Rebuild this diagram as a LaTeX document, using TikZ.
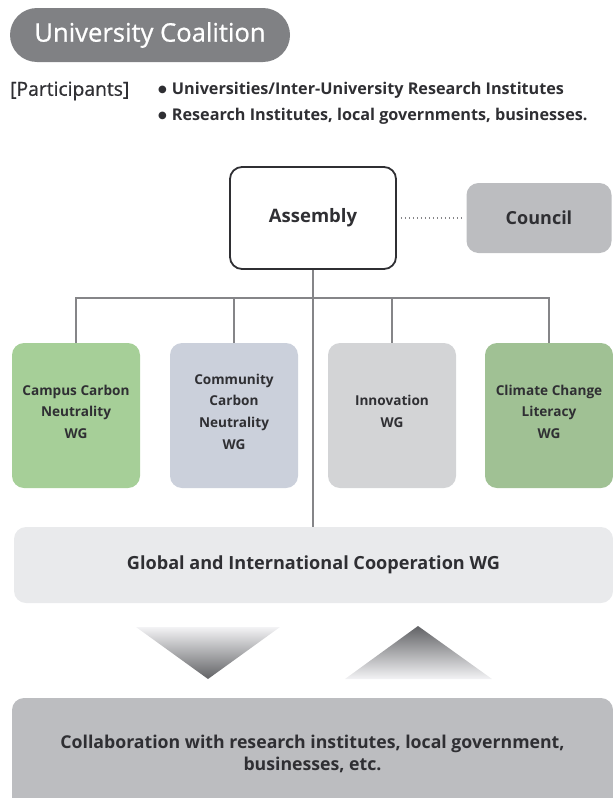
\documentclass[tikz,border=0pt]{standalone}
\usepackage{fontspec}
\setmainfont{Open Sans}
\newfontfamily\dejavu{DejaVu Sans}
\newfontfamily\medfont[FakeBold=0.8]{Open Sans}
\definecolor{txt}{HTML}{2F2F33}
\definecolor{pillgray}{HTML}{808184}
\definecolor{linegray}{HTML}{858588}
\definecolor{councilgray}{HTML}{BCBDC0}
\definecolor{wgA}{HTML}{A6CF98}
\definecolor{wgB}{HTML}{CBD0DB}
\definecolor{wgC}{HTML}{D3D4D6}
\definecolor{wgD}{HTML}{A0C194}
\definecolor{globalfill}{HTML}{E9EAEC}
\definecolor{shadelight}{HTML}{F3F3F5}
\definecolor{shadedark}{HTML}{616265}
\newcommand{\blt}{\raisebox{1.6pt}{\dejavu\fontsize{10}{12}\selectfont ●}\hspace{5pt}}
\tikzset{
  box/.style={rounded corners=12pt, inner sep=0pt, align=center, text=txt, font=\bfseries},
  wgbox/.style={rounded corners=12pt, inner sep=0pt, minimum width=128pt, minimum height=145pt},
  wgtext/.style={inner sep=0pt, align=center, text=txt, font=\bfseries\fontsize{13.6}{21.6}\selectfont},
  conn/.style={draw=linegray, line width=2.6pt},
}
\begin{document}
\begin{tikzpicture}[x=1pt,y=-1pt]
\useasboundingbox (0,0) rectangle (613,798);
% title
\node[fill=pillgray, rounded corners=27pt, minimum width=280pt, minimum height=54pt, inner sep=0pt,
      text=white, font=\medfont\fontsize{25.6}{30}\selectfont] (title) at (150,35) {University Coalition};
% participants
\node[anchor=west, inner sep=0pt, text=txt, font=\medfont\fontsize{19.3}{22}\selectfont] (part) at (10,91) {[Participants]};
\node[anchor=west, inner sep=0pt, text=txt, font=\bfseries\fontsize{16.2}{20}\selectfont] (p1) at (158,90)
  {\blt Universities/Inter-University Research Institutes};
\node[anchor=west, inner sep=0pt, text=txt, font=\bfseries\fontsize{16.2}{20}\selectfont] (p2) at (158,116)
  {\blt Research Institutes, local governments, businesses.};
% assembly & council
\node[box, draw=txt, line width=1.8pt, fill=white, minimum width=166pt, minimum height=102pt,
      font=\bfseries\fontsize{18.5}{22}\selectfont] (assembly) at (313,218) {Assembly};
\node[box, fill=councilgray, minimum width=145pt, minimum height=70pt,
      font=\bfseries\fontsize{18}{22}\selectfont] (council) at (539,218) {Council};
\draw[linegray, line width=1.3pt, dash pattern=on 1.5pt off 2.5pt] ([xshift=4pt]assembly.east) -- ([xshift=-4pt]council.west);
% working groups
\node[wgbox, fill=wgA] (wg1) at (76,415.5) {};
\node[wgbox, fill=wgB] (wg2) at (234,415.5) {};
\node[wgbox, fill=wgC] (wg3) at (392,415.5) {};
\node[wgbox, fill=wgD] (wg4) at (549,415.5) {};
\node[wgtext] (wg1t) at ([yshift=4pt]wg1.center) {Campus Carbon\\Neutrality\\WG};
\node[wgtext] (wg2t) at ([yshift=4pt]wg2.center) {Community\\Carbon\\Neutrality\\WG};
\node[wgtext] (wg3t) at ([yshift=4pt]wg3.center) {Innovation\\WG};
\node[wgtext] (wg4t) at ([yshift=4pt]wg4.center) {Climate Change\\Literacy\\WG};
% global
\node[box, fill=globalfill, minimum width=599pt, minimum height=76pt,
      font=\bfseries\fontsize{18.1}{22}\selectfont] (global) at (313.5,565) {Global and International Cooperation WG};
% connectors
\coordinate (bus) at (313,298);
\draw[conn] (assembly.south) -- (assembly.south |- global.north);
\draw[conn] (wg1.north) -- (wg1.north |- bus) -- (wg4.north |- bus) -- (wg4.north);
\draw[conn] (wg2.north) -- (wg2.north |- bus);
\draw[conn] (wg3.north) -- (wg3.north |- bus);
% triangles
\shade[top color=shadelight, bottom color=shadedark] (136,627) -- (280,627) -- (208,679) -- cycle;
\shade[top color=shadedark, bottom color=shadelight] (418,626) -- (492,679) -- (345,679) -- cycle;
% bottom box
\begin{scope}
\clip (0,0) rectangle (613,798);
\node[box, fill=councilgray, minimum width=601pt, minimum height=112pt,
      font=\bfseries\fontsize{17.7}{22}\selectfont] (collab) at (312.5,754) {Collaboration with research institutes, local government,\\businesses, etc.};
\end{scope}
\end{tikzpicture}
\end{document}
